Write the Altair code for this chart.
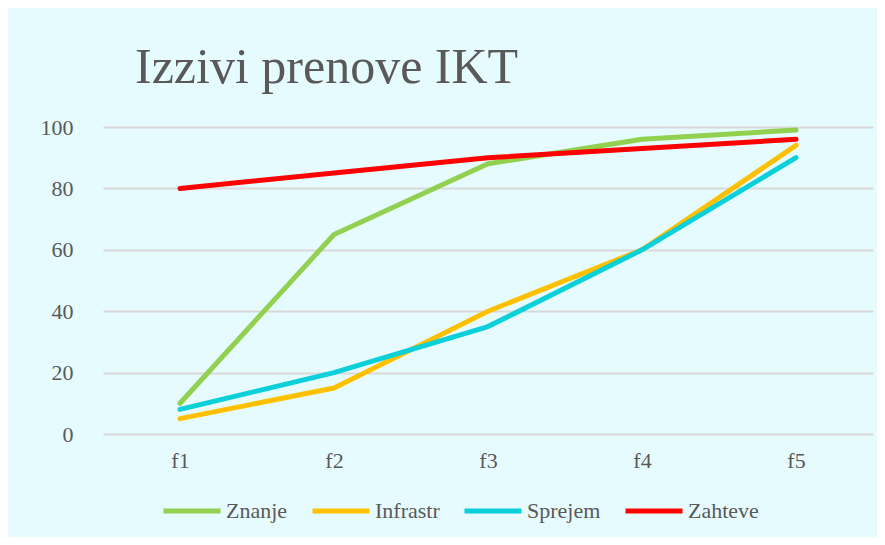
import altair as alt
import pandas as pd

categories = ["f1", "f2", "f3", "f4", "f5"]
series_names = ["Znanje", "Infrastr", "Sprejem", "Zahteve"]
znanje = [10, 65, 88, 96, 99]
infrastr = [5, 15, 40, 60, 94]
sprejem = [8, 20, 35, 60, 90]
zahteve = [80, 85, 90, 93, 96]
colors = ["#92D050", "#FFC000", "#0BD0D9", "#FF0000"]
y_ticks = [0, 20, 40, 60, 80, 100]

rows = []
for name, vals in zip(series_names, [znanje, infrastr, sprejem, zahteve]):
    for i, (c, v) in enumerate(zip(categories, vals)):
        rows.append({"kat": c, "vrednost": v, "serija": name, "ord": i})
df = pd.DataFrame(rows)

FONT = "Liberation Serif"
TXT = "#595959"

chart = (
    alt.Chart(df)
    .mark_line(strokeWidth=5, strokeCap="round", strokeJoin="round")
    .encode(
        x=alt.X(
            "kat:N",
            sort=categories,
            scale=alt.Scale(type="point", padding=0.5),
            axis=alt.Axis(
                title=None, labelAngle=0, domain=False, ticks=False, grid=False,
                labelFont=FONT, labelFontSize=22, labelColor=TXT, labelPadding=16,
            ),
        ),
        y=alt.Y(
            "vrednost:Q",
            scale=alt.Scale(domain=[0, 100], nice=False, zero=True),
            axis=alt.Axis(
                title=None, values=y_ticks, domain=False, ticks=False,
                grid=True, gridColor="#D9D9D9", gridWidth=2,
                labelFont=FONT, labelFontSize=22, labelColor=TXT, labelPadding=30,
            ),
        ),
        color=alt.Color(
            "serija:N",
            sort=series_names,
            scale=alt.Scale(domain=series_names, range=colors),
            legend=alt.Legend(
                title=None, orient="none", direction="horizontal", columns=4,
                legendX=58, legendY=353,
                symbolType="stroke", symbolSize=3249, symbolStrokeWidth=5,
                labelFont=FONT, labelFontSize=22, labelColor=TXT,
                labelOffset=3, columnPadding=14, padding=0,
            ),
        ),
        order=alt.Order("ord:Q"),
    )
    .properties(
        width=770,
        height=307,
        autosize=alt.AutoSizeParams(type="none"),
        padding={"left": 95, "top": 119, "right": 4, "bottom": 103},
        background="#E6FBFE",
        title=alt.TitleParams(
            "Izzivi prenove IKT", anchor="start", frame="group",
            font=FONT, fontSize=50, fontWeight="normal", color=TXT,
            dx=32, offset=23,
        ),
    )
    .configure_view(stroke=None)
)

chart.save("out.html", embed_options={"renderer": "svg", "actions": False})
